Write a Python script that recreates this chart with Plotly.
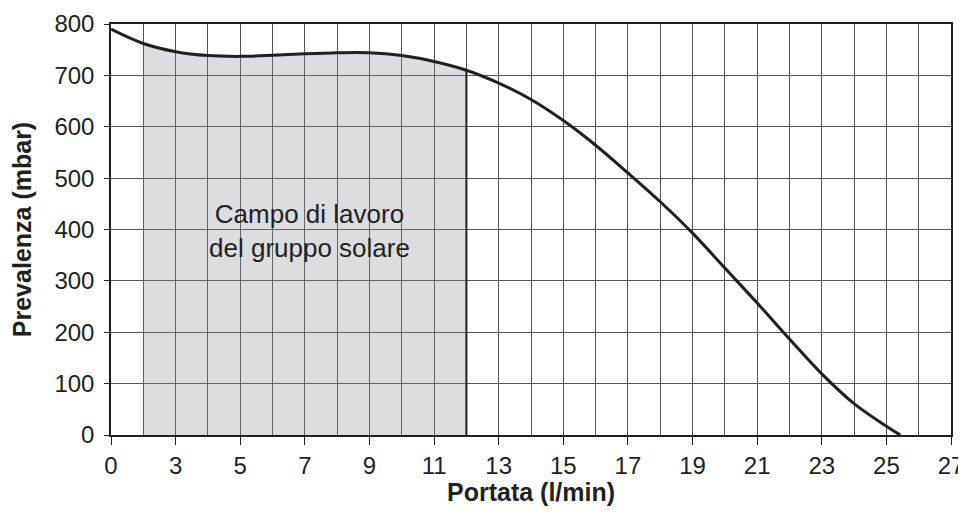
import plotly.graph_objects as go

# Flow positions on the chart grid (first grid position is labelled "0")
flow = [1, 2, 3, 4, 5, 6, 7, 8, 9, 10, 11, 12, 13, 14, 15, 16, 17, 18, 19,
        20, 21, 22, 23, 24, 25, 25.43]
# Head (mbar)
head = [790, 762, 746, 738.5, 737, 739, 742, 744, 744, 738.5, 727, 710, 685,
        653, 612, 564, 510, 454, 393, 325, 257, 187, 119, 61, 17, 0]

tick_vals = [1, 3, 5, 7, 9, 11, 13, 15, 17, 19, 21, 23, 25, 27]
tick_text = ["0", "3", "5", "7", "9", "11", "13", "15", "17", "19", "21",
             "23", "25", "27"]

work_start = 2
work_end = 12
work_label = "Campo di lavoro<br>del gruppo solare"
x_title = "<b>Portata (l/min)</b>"
y_title = "<b>Prevalenza (mbar)</b>"

FONT = "Arial, 'Liberation Sans', sans-serif"
INK = "#231f20"
GRID = "#555555"

i0 = flow.index(work_start)
i1 = flow.index(work_end)

fig = go.Figure()

# working range area (translucent so grid shows through)
fig.add_trace(go.Scatter(
    x=flow[i0:i1 + 1], y=head[i0:i1 + 1], mode="lines",
    line=dict(width=0, shape="spline", color="rgba(0,0,0,0)"),
    fill="tozeroy", fillcolor="rgba(138,142,152,0.3)",
    hoverinfo="skip", showlegend=False))

# right edge of working range
fig.add_trace(go.Scatter(
    x=[flow[i1], flow[i1]], y=[0, head[i1]], mode="lines",
    line=dict(color=INK, width=2), hoverinfo="skip", showlegend=False))

# pump curve
fig.add_trace(go.Scatter(
    x=flow, y=head, mode="lines",
    line=dict(color=INK, width=3, shape="spline", smoothing=1),
    showlegend=False))

fig.add_annotation(
    x=7.15, y=397, text=work_label, showarrow=False,
    font=dict(family=FONT, size=26, color=INK), align="center")

# x-axis title (as annotation to control its distance from the tick labels)
fig.add_annotation(
    x=0.5, y=0, xref="paper", yref="paper", text=x_title, showarrow=False,
    xanchor="center", yanchor="middle", yshift=-57,
    font=dict(family=FONT, size=25, color=INK))

# page body has an 8px default margin, so the figure is sized to fit the window
fig.update_layout(
    width=958, height=509,
    margin=dict(l=103, r=15, t=16, b=82),
    paper_bgcolor="white", plot_bgcolor="white",
    font=dict(family=FONT, color=INK),
)

fig.update_xaxes(
    range=[1, 27], tickmode="array", tickvals=tick_vals, ticktext=tick_text,
    ticks="outside", ticklen=8, tickcolor=INK, tickwidth=1,
    tickfont=dict(family=FONT, size=24, color=INK),
    showgrid=True, gridcolor=GRID, gridwidth=1,
    minor=dict(tick0=1, dtick=1, showgrid=True, gridcolor=GRID, gridwidth=1, ticks=""),
    showline=True, linecolor=INK, linewidth=2, mirror=True,
    zeroline=False, automargin=False,
)

fig.update_yaxes(
    range=[0, 800], dtick=100, tick0=0,
    ticks="outside", ticklen=5, tickcolor=INK, tickwidth=1,
    ticklabelstandoff=5,
    tickfont=dict(family=FONT, size=24, color=INK),
    showgrid=True, gridcolor=GRID, gridwidth=1,
    showline=True, linecolor=INK, linewidth=1.5, mirror=True,
    zeroline=False, automargin=False,
    title=dict(text=y_title, font=dict(family=FONT, size=25, color=INK),
               standoff=20),
)

fig.write_html("out.html")
